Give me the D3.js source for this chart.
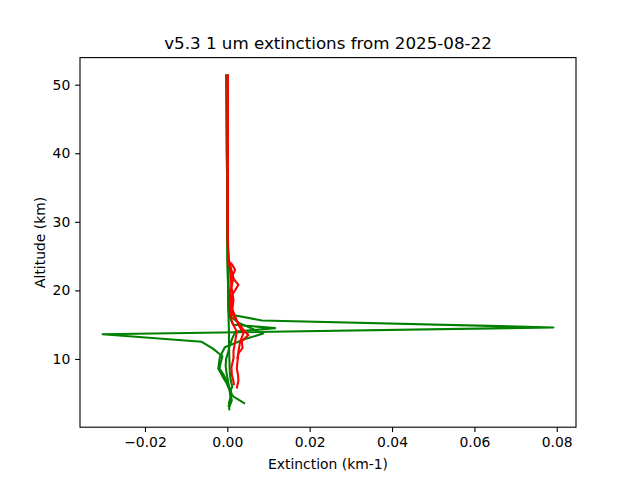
<!DOCTYPE html>
<html>
<head>
<meta charset="utf-8">
<script src="https://cdn.jsdelivr.net/npm/d3@7"></script>
<style>
  body { margin: 0; background: #fff; }
  text { font-family: "DejaVu Sans", sans-serif; }
</style>
</head>
<body>
<script>
// extinction profiles (km, km-1)
var greenAlts = [
  [51.5, 45, 40, 35, 30, 27, 25, 23, 21, 19, 17.5, 16.5, 15.6, 14.6, 13.6, 12.5, 11.5, 10.4, 9.5, 8.6, 7.8, 7.0, 6.0, 5.0, 4.0, 3.0],
  [51.5, 40, 30, 25, 21, 18, 16.5, 15.8, 15.0, 14.5, 14.0, 13.0, 12.0, 11.0, 10.0, 9.0, 8.0, 7.0, 6.0, 5.0, 4.5, 3.5],
  [51.5, 40, 30, 25, 20, 17, 16.2, 15.3, 13.7, 12.9, 11.7, 10.3, 8.6, 7.5, 6.5, 5.5, 4.5, 3.5, 2.5],
  [51.5, 40, 30, 25, 20, 16, 14, 12, 10, 8, 7, 6, 5, 4, 3]
];
var greenExts = [
  [-0.0002, -0.0001, -0.0001, 0, 0, 0.0001, 0.0002, 0.0003, 0.0003, 0.0004, 0.0005, 0.0007, 0.0084, 0.0792, -0.0303, -0.0062, -0.0035, -0.0012, -0.0016, -0.0019, -0.0010, -0.0003, 0.0004, 0.0010, 0.0006, 0.0003],
  [-0.0002, -0.0001, 0, 0.0001, 0.0002, 0.0003, 0.0004, 0.0008, 0.0015, 0.0116, 0.0020, 0.0012, 0.0006, 0.0002, -0.0003, -0.0004, -0.0002, 0.0001, 0.0004, 0.0008, 0.0015, 0.0043],
  [-0.0002, -0.0001, 0, 0.0001, 0.0002, 0.0003, 0.0008, 0.0027, 0.0087, 0.0043, -0.0006, -0.0018, -0.0022, -0.0012, -0.0002, 0.0005, 0.0009, 0.0004, 0.0005],
  [-0.0002, -0.0001, 0, 0, 0.0002, 0.0003, 0.0004, 0.0004, 0.0005, 0.0006, 0.0008, 0.0012, 0.0006, 0.0011, 0.0005]
];
var redAlts = [
  [51.5, 40, 30, 26.6, 24.2, 23.8, 23.0, 22.0, 20.8, 19.3, 17.4, 16.2, 15.0, 13.75, 12.5, 11.1, 9.8, 8.6, 7.7, 6.9, 5.7],
  [51.5, 40, 30, 26, 24.5, 23.7, 22.5, 21.8, 20, 18, 16.5, 15.4, 14.0, 12.5, 11.2, 10.1, 8.8, 7.7, 6.7, 6.2],
  [51.5, 40, 30, 25, 22.5, 20.5, 18.6, 16.7, 15.2, 14.2, 13.5, 12.6, 11.6, 10.8, 10.0]
];
var redExts = [
  [0.0001, 0.0001, 0.0001, 0.0001, 0.0004, 0.0011, 0.0019, 0.0011, 0.0027, 0.0011, 0.0011, 0.0019, 0.0027, 0.0039, 0.0031, 0.0027, 0.0025, 0.0023, 0.0026, 0.0027, 0.0023],
  [0.0001, 0.0001, 0.0001, 0.0002, 0.0003, 0.0007, 0.0012, 0.0015, 0.0008, 0.0006, 0.0009, 0.0011, 0.0023, 0.0019, 0.0015, 0.0015, 0.0010, 0.0011, 0.0015, 0.0016],
  [0.0001, 0.0001, 0.0001, 0.0002, 0.0008, 0.0010, 0.0015, 0.0011, 0.0027, 0.0040, 0.0051, 0.0035, 0.0037, 0.0027, 0.0024]
];
var xTicks = [-0.02, 0, 0.02, 0.04, 0.06, 0.08];
var yTicks = [10, 20, 30, 40, 50];
var titleText = "v5.3 1 um extinctions from 2025-08-22";

var width = 640, height = 480;
var margin = {left: 80, right: 64, top: 57.6, bottom: 52.8};
var w = width - margin.left - margin.right;
var h = height - margin.top - margin.bottom;

// matplotlib style 5% padding on the data extent
function padded(lists) {
  var all = [].concat.apply([], lists);
  var lo = d3.min(all), hi = d3.max(all), p = (hi - lo) * 0.05;
  return [lo - p, hi + p];
}

var x = d3.scaleLinear().domain(padded(greenExts.concat(redExts))).range([0, w]);
var y = d3.scaleLinear().domain(padded(greenAlts.concat(redAlts))).range([h, 0]);

var svg = d3.select("body").append("svg").attr("width", width).attr("height", height);
var g = svg.append("g").attr("transform", "translate(" + margin.left + "," + margin.top + ")");

g.append("clipPath").attr("id", "clip")
  .append("rect").attr("width", w).attr("height", h);

var line = d3.line()
  .x(function(d) { return x(d[1]); })
  .y(function(d) { return y(d[0]); });

var plot = g.append("g").attr("clip-path", "url(#clip)");

function drawSet(alts, exts, colour) {
  alts.forEach(function(a, i) {
    plot.append("path")
      .datum(a.map(function(v, j) { return [v, exts[i][j]]; }))
      .attr("d", line)
      .attr("fill", "none")
      .attr("stroke", colour)
      .attr("stroke-width", 2.08)
      .attr("stroke-linejoin", "round");
  });
}
drawSet(greenAlts, greenExts, "green");
drawSet(redAlts, redExts, "red");

var xAxis = d3.axisBottom(x).tickValues(xTicks).tickFormat(d3.format(".2f"))
  .tickSizeInner(4.86).tickSizeOuter(0).tickPadding(4.86);
var yAxis = d3.axisLeft(y).tickValues(yTicks).tickFormat(d3.format("d"))
  .tickSizeInner(4.86).tickSizeOuter(0).tickPadding(4.86);

var gx = g.append("g").attr("transform", "translate(0," + h + ")").call(xAxis);
var gy = g.append("g").call(yAxis);
[gx, gy].forEach(function(a) {
  a.select(".domain").remove();
  a.selectAll("line").attr("stroke", "#000").attr("stroke-width", 1.11);
  a.selectAll("text").attr("fill", "#000").style("font-size", "13.9px")
    .style("font-family", "DejaVu Sans");
});

// frame
g.append("rect").attr("width", w).attr("height", h)
  .attr("fill", "none").attr("stroke", "#000").attr("stroke-width", 1.11);

svg.append("text")
  .attr("x", margin.left + w / 2).attr("y", margin.top - 8.3)
  .attr("text-anchor", "middle").style("font-size", "16.7px")
  .text(titleText);

svg.append("text")
  .attr("x", margin.left + w / 2).attr("y", 469)
  .attr("text-anchor", "middle").style("font-size", "13.9px")
  .text("Extinction (km-1)");

svg.append("text")
  .attr("transform", "translate(45," + (margin.top + h / 2) + ") rotate(-90)")
  .attr("text-anchor", "middle").style("font-size", "13.9px")
  .text("Altitude (km)");
</script>
</body>
</html>
